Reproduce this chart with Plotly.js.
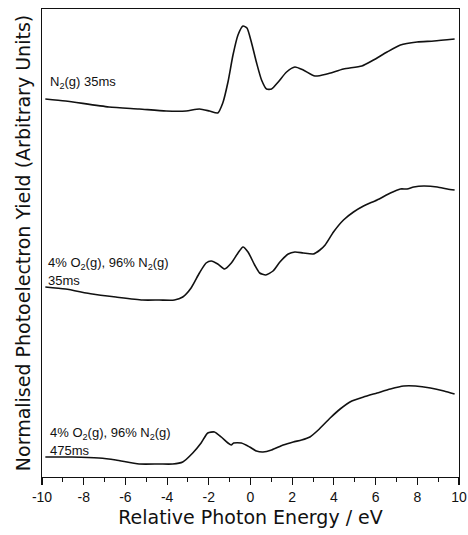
<!DOCTYPE html>
<html>
<head>
<meta charset="utf-8">
<script src="https://cdn.plot.ly/plotly-3.0.1.min.js"></script>
<style>html,body{margin:0;padding:0;background:#fff;}#chart{width:468px;height:535px;}</style>
</head>
<body>
<div id="chart"></div>
<script>
// Relative photon energy (eV) and normalised yield (arbitrary units, stacked)
var n2_35_x = [-9.84,-8.87,-6.79,-5.34,-4.05,-3.09,-2.45,-1.97,-1.57,-1.33,-1.08,-0.84,-0.60,-0.36,-0.17,0.04,0.28,0.53,0.77,1.01,1.33,1.73,2.13,2.53,3.09,3.66,4.46,5.34,5.9,6.55,7.19,7.99,8.8,9.79];
var n2_35_y = [378,376,370,368,366,366,368,366,364,374,395,422,442,451,449,435,415,397,388,388,395,405,410,407,401,403,408,411,417,425,432,435,436,438];

var mix_35_x = [-9.84,-8.87,-7.59,-6.46,-5.18,-4.38,-3.65,-3.25,-2.85,-2.45,-2.13,-1.88,-1.57,-1.24,-0.92,-0.60,-0.36,-0.12,0.20,0.44,0.73,1.08,1.41,1.81,2.13,2.53,3.01,3.33,3.58,3.98,4.46,4.94,5.42,6.07,6.71,7.19,7.51,7.83,8.31,8.96,9.44,9.79];
var mix_35_y = [190,188,183,180,177,177,177,180,189,204,214,216,213,208,214,224,230,225,212,204,202,206,215,223,225,224,223,227,232,245,257,265,271,277,284,288,288,290,291,290,288,287];

var mix_475_x = [-9.84,-8.55,-7.27,-6.46,-5.34,-4.38,-3.73,-3.25,-2.77,-2.37,-2.05,-1.73,-1.40,-1.08,-0.92,-0.81,-0.44,-0.04,0.28,0.60,1.01,1.57,2.05,2.45,2.85,3.25,3.82,4.30,4.86,5.42,6.07,6.71,7.35,7.91,8.63,9.28,9.79];
var mix_475_y = [20,20,19,17,13,13,13,15,24,34,44,45,40,34,32,34,34,30,26,25,27,32,35,37,40,47,59,68,76,80,84,88,91,91,89,86,83];

var xTickVals = [-10,-8,-6,-4,-2,0,2,4,6,8,10];
var xTickText = ['-10','-8','-6','-4','-2','0','2','4','6','8','10'];

var labels = [
  {text:'N<sub>2</sub>(g) 35ms', x:-9.72, y:395},
  {text:'4% O<sub>2</sub>(g), 96% N<sub>2</sub>(g)', x:-9.8, y:214},
  {text:'35ms', x:-9.8, y:197},
  {text:'4% O<sub>2</sub>(g), 96% N<sub>2</sub>(g)', x:-9.7, y:44},
  {text:'475ms', x:-9.7, y:27}
];

var line = {color:'#111', width:1.6, shape:'spline', smoothing:0.6};
var traces = [
  {x:n2_35_x, y:n2_35_y, mode:'lines', line:line, hoverinfo:'skip'},
  {x:mix_35_x, y:mix_35_y, mode:'lines', line:line, hoverinfo:'skip'},
  {x:mix_475_x, y:mix_475_y, mode:'lines', line:line, hoverinfo:'skip'}
];

var font = 'Liberation Sans, Arial, sans-serif';
var titleFont = 'DejaVu Sans, Liberation Sans, sans-serif';
var layout = {
  width:468, height:535,
  margin:{l:42, r:9, t:9, b:58},
  paper_bgcolor:'#fff', plot_bgcolor:'#fff',
  showlegend:false,
  font:{family:font, color:'#111'},
  xaxis:{
    range:[-10,10], tickvals:xTickVals, ticktext:xTickText,
    ticks:'outside', ticklen:7, tickwidth:1.2, tickcolor:'#111',
    minor:{dtick:1, ticks:'outside', ticklen:4, tickcolor:'#111', tickwidth:1},
    showline:true, mirror:true, linecolor:'#111', linewidth:1.3,
    showgrid:false, zeroline:false,
    tickfont:{size:14, family:font, color:'#111'},
    title:{text:'Relative Photon Energy / eV', font:{size:19, family:titleFont, color:'#111'}, standoff:6}
  },
  yaxis:{
    range:[0,468], showticklabels:false, ticks:'',
    showline:true, mirror:true, linecolor:'#111', linewidth:1.3,
    showgrid:false, zeroline:false,
    title:{text:'Normalised Photoelectron Yield (Arbitrary Units)', font:{size:19, family:titleFont, color:'#111'}, standoff:5}
  },
  annotations: labels.map(function(a){
    return {text:a.text, x:a.x, y:a.y, xref:'x', yref:'y', xanchor:'left', yanchor:'middle',
            showarrow:false, font:{size:13, family:font, color:'#111'}};
  })
};
Plotly.newPlot('chart', traces, layout, {staticPlot:true, displayModeBar:false});
</script>
</body>
</html>
